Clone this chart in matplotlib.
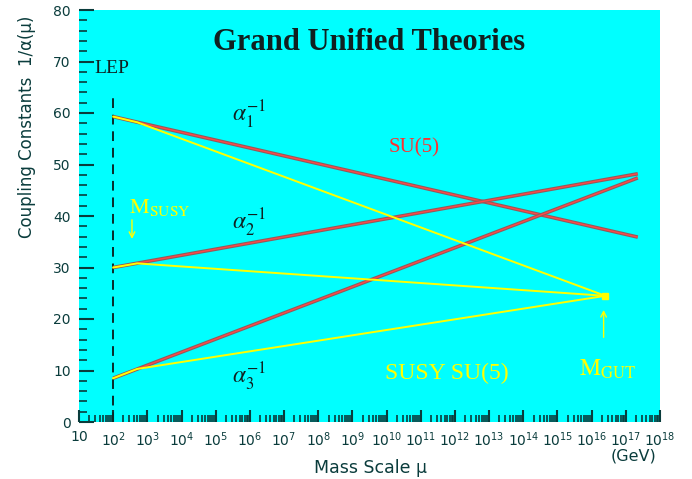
import matplotlib
matplotlib.use('Agg')
import matplotlib.pyplot as plt
import matplotlib.patheffects as pe
from matplotlib.ticker import FixedLocator, LogLocator, MultipleLocator, NullFormatter

plt.rcParams['font.family'] = 'DejaVu Sans'
plt.rcParams['mathtext.fontset'] = 'stix'

# Standard Model running (SU(5)), from M_Z to the end of the plot
mu_sm = [1e2, 10**17.35]
inv_a1_sm = [59.3, 35.9]
inv_a2_sm = [30.0, 48.2]
inv_a3_sm = [8.5, 47.4]

# SUSY running, kink at M_SUSY, meeting at M_GUT
mu_susy = [1e2, 10**2.7, 10**16.4]
inv_a1_susy = [59.3, 58.2, 24.5]
inv_a2_susy = [30.0, 30.8, 24.5]
inv_a3_susy = [8.5, 10.3, 24.5]

m_gut = 10**16.4
a_gut = 24.5
m_lep = 1e2

xticks = [10**k for k in range(1, 19)]
xticklabels = [r'$\mathdefault{10}$'] + [r'$\mathdefault{10^{%d}}$' % k for k in range(2, 19)]

fig = plt.figure(figsize=(6.92, 4.79), dpi=100)
ax = fig.add_axes([79/692, 1-422/479, (660-79)/692, (422-10)/479])
ax.set_facecolor('#00ffff')
for s in ax.spines.values():
    s.set_visible(False)

ax.set_xscale('log')
ax.set_xlim(10, 1e18)
ax.set_ylim(0, 80)

tick_col = '#0a3c3c'
ax.xaxis.set_major_locator(FixedLocator(xticks))
ax.xaxis.set_minor_locator(LogLocator(base=10, subs=range(2, 10), numticks=40))
ax.xaxis.set_minor_formatter(NullFormatter())
ax.set_xticklabels(xticklabels)
ax.yaxis.set_major_locator(MultipleLocator(10))
ax.yaxis.set_minor_locator(MultipleLocator(2))
ax.tick_params(which='major', direction='in', length=9, width=1.5, color=tick_col,
               labelsize=10, labelcolor=tick_col, pad=6)
ax.tick_params(which='minor', direction='in', length=5, width=1.2, color=tick_col)
ax.tick_params(axis='y', which='major', length=11)
ax.tick_params(axis='y', which='minor', length=6)

# LEP line
ax.plot([m_lep, m_lep], [0, 64], color='#0a2a2a', lw=1.4, ls=(0, (5, 3.5)))
ax.text(10**1.45, 68.7, 'LEP', family='Liberation Serif', fontsize=14,
        color='#102020', va='center', ha='left')

# SU(5) red lines with dark edge
red_fx = [pe.withStroke(linewidth=2.6, foreground='#945a5a')]
for y in (inv_a1_sm, inv_a2_sm, inv_a3_sm):
    ax.plot(mu_sm, y, color='#ff4848', lw=1.0, path_effects=red_fx,
            solid_capstyle='butt')

# SUSY SU(5) yellow lines
for y in (inv_a1_susy, inv_a2_susy, inv_a3_susy):
    ax.plot(mu_susy, y, color='#ffff00', lw=1.4)
ax.plot([m_gut], [a_gut], 's', color='#ffff00', ms=4)

# labels
ax.text(0.5, 0.92, 'Grand Unified Theories', transform=ax.transAxes, ha='center',
        va='center', family='Liberation Serif', fontweight='bold', fontsize=22,
        color='#102020')
lab = dict(fontsize=17, color='#102020', ha='center', va='center')
ax.text(10**5.97, 59.6, r'$\alpha_1^{-1}$', **lab)
ax.text(10**5.97, 38.6, r'$\alpha_2^{-1}$', **lab)
ax.text(10**5.97, 8.7, r'$\alpha_3^{-1}$', **lab)
ax.text(10**10.8, 53.2, 'SU(5)', family='Liberation Serif', fontsize=15,
        color='#ff3030', ha='center', va='center')
ax.text(10**11.76, 9.5, 'SUSY SU(5)', family='Liberation Serif', fontsize=17,
        color='#ffff00', ha='center', va='center')
ax.text(10**2.45, 41.7, r'$\mathrm{M}_{\mathrm{SUSY}}$', fontsize=16,
        color='#ffff00', ha='left', va='center')
ax.text(10**16.45, 10.2, r'$\mathrm{M}_{\mathrm{GUT}}$', fontsize=17,
        color='#ffff00', ha='center', va='center')

# arrows
ax.annotate('', xy=(10**2.55, 35.0), xytext=(10**2.55, 39.8),
            arrowprops=dict(arrowstyle='->', color='#ffff00', lw=1))
ax.annotate('', xy=(10**16.35, 22.3), xytext=(10**16.35, 15.9),
            arrowprops=dict(arrowstyle='->', color='#ffff00', lw=1))

# axis titles
fig.text(27/692, 1-127/479, 'Coupling Constants  1/α(μ)', rotation=90,
         ha='center', va='center', fontsize=12, color=tick_col)
fig.text(370/692, 1-468/479, 'Mass Scale μ', ha='center', va='center',
         fontsize=12.5, color=tick_col)
fig.text(634/692, 1-456/479, '(GeV)', ha='center', va='center',
         fontsize=11.5, color=tick_col)

fig.savefig('out.png', dpi=100)
